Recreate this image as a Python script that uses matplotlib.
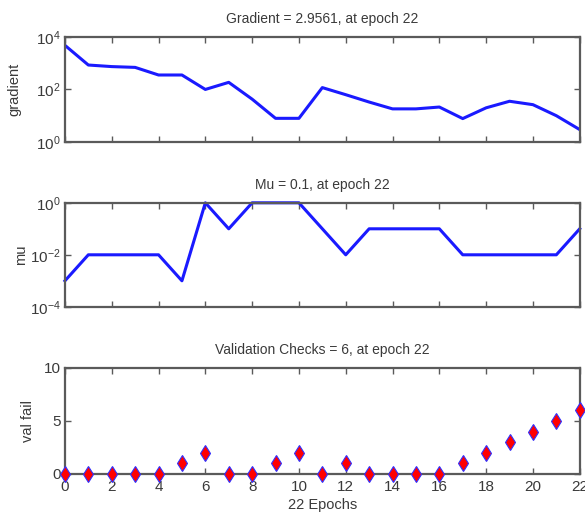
import matplotlib
matplotlib.use("Agg")
import matplotlib.pyplot as plt
import numpy as np

epochs = list(range(0, 23))
gradient_log = [3.68, 2.93, 2.87, 2.84, 2.55, 2.55, 2.0, 2.27, 1.63, 0.9, 0.9,
                2.07, 1.8, 1.52, 1.26, 1.26, 1.33, 0.89, 1.3, 1.55, 1.42, 1.0, 0.4707]
gradient = [10 ** v for v in gradient_log]
mu = [1e-3, 1e-2, 1e-2, 1e-2, 1e-2, 1e-3, 1, 0.1, 1, 1, 1,
      0.1, 1e-2, 0.1, 0.1, 0.1, 0.1, 1e-2, 1e-2, 1e-2, 1e-2, 1e-2, 0.1]
val_fail = [0, 0, 0, 0, 0, 1, 2, 0, 0, 1, 2, 0, 1, 0, 0, 0, 0, 1, 2, 3, 4, 5, 6]
xticks = list(range(0, 23, 2))

plt.rcParams['font.family'] = ['Liberation Sans', 'DejaVu Sans']
plt.rcParams['mathtext.fontset'] = 'custom'
plt.rcParams['mathtext.rm'] = 'Liberation Sans'
plt.rcParams['mathtext.it'] = 'Liberation Sans'
plt.rcParams['mathtext.bf'] = 'Liberation Sans:bold'
frame_col = '#5a5a5a'
text_col = '#3a3a3a'

fig = plt.figure(figsize=(5.85, 5.2), dpi=100)
left, width = 0.111, 0.880
ax1 = fig.add_axes([left, 0.727, width, 0.202])
ax2 = fig.add_axes([left, 0.410, width, 0.200])
ax3 = fig.add_axes([left, 0.0885, width, 0.204])

def style(ax, show_x):
    for s in ax.spines.values():
        s.set_color(frame_col)
        s.set_linewidth(1.6)
    ax.set_xlim(0, 22)
    ax.set_xticks(xticks)
    ax.tick_params(direction='in', top=True, right=True, length=4, width=1,
                   colors=frame_col, labelcolor=text_col, labelsize=11)
    ax.tick_params(axis='y', pad=3)
    if not show_x:
        ax.set_xticklabels([])

title_kw = dict(fontsize=10, color=text_col, pad=10)

ax1.semilogy(epochs, gradient, color='#1a1aff', lw=2.2)
ax1.set_ylim(1, 1e4)
ax1.set_yticks([1, 1e2, 1e4])
ax1.set_ylabel('gradient', fontsize=10.5, color=text_col)
ax1.yaxis.set_label_coords(-0.085, 0.5)
ax1.set_title('Gradient = 2.9561, at epoch 22', **title_kw)
style(ax1, False)
ax1.minorticks_off()

ax2.semilogy(epochs, mu, color='#1a1aff', lw=2.2, clip_on=False)
ax2.set_ylim(1e-4, 1)
ax2.set_yticks([1e-4, 1e-2, 1])
ax2.set_yticklabels(['$10^{-4}$', '$10^{-2}$', '$10^{0}$'])
ax2.set_ylabel('mu', fontsize=10.5, color=text_col)
ax2.yaxis.set_label_coords(-0.072, 0.5)
ax2.set_title('Mu = 0.1, at epoch 22', **title_kw)
style(ax2, False)
ax2.minorticks_off()

ax3.plot(epochs, val_fail, linestyle='none', marker='d', markersize=8.5,
         markerfacecolor='#ff0000', markeredgecolor='#3030ff', markeredgewidth=0.8,
         clip_on=False, zorder=5)
ax3.set_ylim(0, 10)
ax3.set_yticks([0, 5, 10])
ax3.set_ylabel('val fail', fontsize=10.5, color=text_col)
ax3.yaxis.set_label_coords(-0.058, 0.5)
ax3.set_xlabel('22 Epochs', fontsize=10.5, color=text_col, labelpad=3)
ax3.set_title('Validation Checks = 6, at epoch 22', **title_kw)
style(ax3, True)
ax3.tick_params(axis='x', pad=4)

fig.savefig('out.png', dpi=100)
